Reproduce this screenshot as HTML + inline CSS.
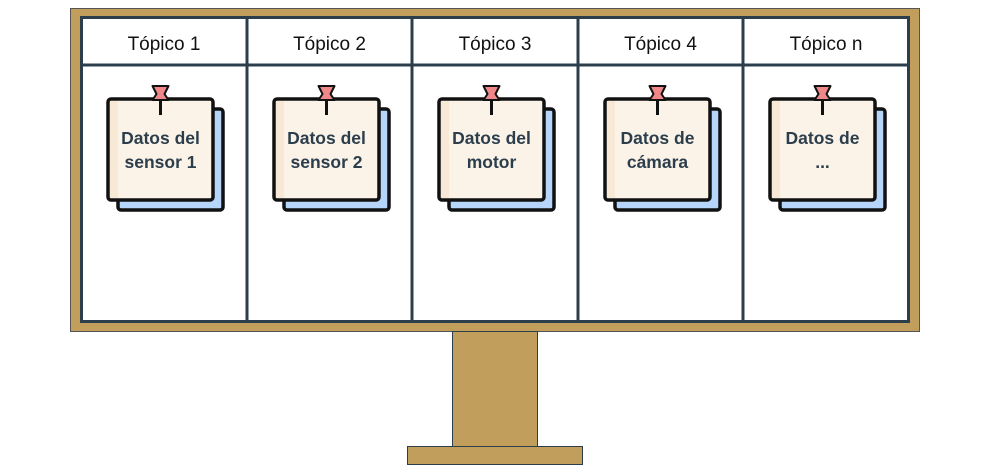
<!DOCTYPE html>
<html><head><meta charset="utf-8"><style>
html,body{margin:0;padding:0;background:#fff;}
svg{display:block;}
text{font-family:"Liberation Sans",sans-serif;}
</style></head><body>
<svg width="985" height="465" viewBox="0 0 985 465">
  <rect x="70.5" y="8.5" width="849" height="323" fill="#c19e5c" stroke="#555" stroke-width="1"/>
  <rect x="452.5" y="331.5" width="85" height="115" fill="#c19e5c" stroke="#2c3e4c" stroke-width="1"/>
  <rect x="407.5" y="446.5" width="175" height="18" fill="#c19e5c" stroke="#2c3e4c" stroke-width="1"/>
  <rect x="81.5" y="17.5" width="827" height="304" fill="#fff" stroke="#2c3e4c" stroke-width="3"/>
  <line x1="81" y1="65" x2="909" y2="65" stroke="#2c3e4c" stroke-width="3"/>
  <g id="cols"></g>
</svg>
<script>
const topics = ["Tópico 1","Tópico 2","Tópico 3","Tópico 4","Tópico n"];
const noteLine1 = ["Datos del","Datos del","Datos del","Datos de","Datos de"];
const noteLine2 = ["sensor 1","sensor 2","motor","cámara","..."];
const NS="http://www.w3.org/2000/svg";
const g=document.getElementById('cols');
const colX=[81,247,412,578,743,909];
function mk(tag,attrs,parent){const e=document.createElementNS(NS,tag);for(const k in attrs)e.setAttribute(k,attrs[k]);parent.appendChild(e);return e;}
topics.forEach((t,i)=>{
  const x0=colX[i], x1=colX[i+1], cx=(x0+x1)/2;
  if(i>0){
    const l=mk('line',{x1:x0,y1:17,x2:x0,y2:322,stroke:'#2c3e4c','stroke-width':3},g);
    
    
  }
  const h=mk('text',{x:cx,y:50,'text-anchor':'middle','font-size':19,fill:'#111'},g);
  h.textContent=t;
  
  
  const nx=x0+27, ny=99, w=105, hh=101;
  const note=mk('g',{},g);
  
  
  mk('rect',{x:nx+10,y:ny+10,width:w,height:hh,rx:3,fill:'#b5d5fb',stroke:'#111','stroke-width':3.5},note);
  mk('rect',{x:nx,y:ny,width:w,height:hh,rx:3,fill:'#fbf3e8',stroke:'#111','stroke-width':3.5},note);
  mk('rect',{x:nx+2,y:ny+2,width:8,height:hh-4,fill:'#f8e9d6'},note);
  const pcx=nx+w/2;
  mk('line',{x1:pcx,y1:ny,x2:pcx,y2:ny+16,stroke:'#111','stroke-width':3},note);
  mk('path',{d:`M${pcx-8} ${ny-13} L${pcx+8} ${ny-13} L${pcx+4} ${ny-5} L${pcx+8} ${ny+1} L${pcx-8} ${ny+1} L${pcx-4} ${ny-5} Z`,fill:'#f0888a',stroke:'#111','stroke-width':2,'stroke-linejoin':'round'},note);
  const t1=mk('text',{x:pcx,y:144,'text-anchor':'middle','font-size':17.5,'font-weight':'bold',fill:'#2c3e4c'},note);
  t1.textContent=noteLine1[i];
  const t2=mk('text',{x:pcx,y:168,'text-anchor':'middle','font-size':17.5,'font-weight':'bold',fill:'#2c3e4c'},note);
  t2.textContent=noteLine2[i];
});
</script>
</body></html>
